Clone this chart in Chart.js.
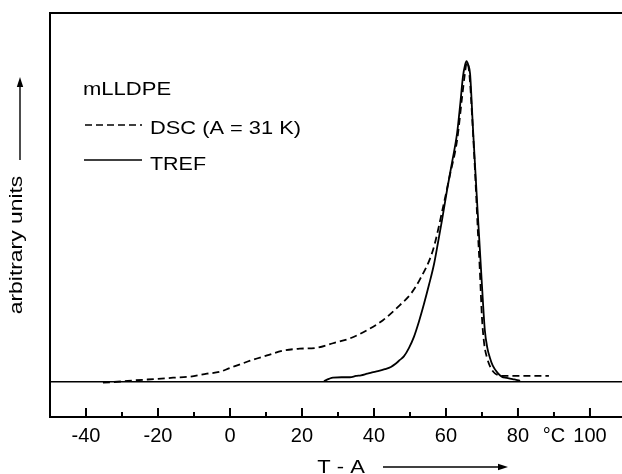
<!DOCTYPE html>
<html><head><meta charset="utf-8">
<script src="https://cdn.jsdelivr.net/npm/chart.js@4"></script>
<style>html,body{margin:0;padding:0;background:#fff;overflow:hidden}</style>
</head><body>
<canvas id="c" width="622" height="474"></canvas>
<script>
// ---- data ----
const dscTemp   = [-35.3, -30, -26.9, -20, -15.8, -11.1, -6.4, -2.8, 0, 2.8, 5.6, 10.3, 14.7, 19.4, 24.2, 28.6, 33.3, 38.1, 42.5, 47.2, 50.3, 52.8, 56.4, 59.2, 61, 63.1, 64.5, 65.3, 65.8, 66.5, 67.3, 68.1, 68.9, 69.4, 70, 70.6, 71.4, 72.5, 73.6, 75.8, 80, 88.6];
const dscSignal = [-0.3, 0.1, 0.4, 0.9, 1.25, 1.6, 2.5, 3.1, 4.3, 5.4, 6.6, 8.2, 9.7, 10.3, 10.6, 12.0, 13.5, 16.1, 19.2, 23.9, 27.5, 32, 41.1, 54.5, 64, 75.4, 89, 96.5, 99.7, 96, 82, 65, 46, 35, 20, 12, 7.5, 4.2, 2.6, 1.8, 1.8, 1.8];
const trefTemp   = [26.1, 27.5, 28.6, 31, 33.3, 35, 36.4, 38.1, 39.5, 41.1, 43, 44.7, 46, 47.2, 48.3, 49.7, 51.1, 52.5, 53.9, 55.3, 56.7, 57.8, 58.9, 60.3, 61.7, 63.1, 64, 64.7, 65.3, 65.7, 66.2, 66.7, 67.5, 68.6, 70, 70.8, 71.5, 72.2, 73, 74.4, 75.5, 76.9, 78.5, 79.5, 80.6];
const trefSignal = [0.2, 0.9, 1.3, 1.4, 1.4, 1.8, 2.0, 2.5, 2.9, 3.3, 3.9, 4.6, 5.6, 6.8, 7.9, 10.5, 14, 18.8, 24.3, 30.3, 36.8, 43.5, 50.4, 59.8, 68.5, 77.6, 87, 95, 98.8, 100, 98.8, 96, 79, 57, 30, 16, 10.5, 7.5, 5, 2.7, 1.6, 1.2, 0.8, 0.6, 0.3];
const xLabelValues = [-40, -20, 0, 20, 40, 60, 80, 100];
const unitLabelValue = 90;
const unitLabel = '°C';
const legendTitle = 'mLLDPE';
const seriesNames = ['DSC (A = 31 K)', 'TREF'];
const xTitle = 'T - A';
const yTitle = 'arbitrary units';

const FONT = '"Liberation Sans", Arial, Helvetica, sans-serif';
const DASH = [7, 4];

function toPoints(xs, ys) { return xs.map((x, i) => ({x: x, y: ys[i]})); }

function stretchText(ctx, text, x, y, size, sx, align, rot) {
  ctx.save();
  ctx.translate(x, y);
  if (rot) ctx.rotate(rot);
  ctx.scale(sx, 1);
  ctx.font = size + 'px ' + FONT;
  ctx.textAlign = align;
  ctx.textBaseline = 'alphabetic';
  ctx.fillStyle = '#000';
  ctx.fillText(text, 0, 0);
  ctx.restore();
}

function arrow(ctx, x1, y1, x2, y2) {
  const ang = Math.atan2(y2 - y1, x2 - x1);
  const L = 10, W = 3.2;
  ctx.beginPath();
  ctx.moveTo(x1, y1);
  ctx.lineTo(x2 - L * Math.cos(ang), y2 - L * Math.sin(ang));
  ctx.stroke();
  ctx.beginPath();
  ctx.moveTo(x2, y2);
  ctx.lineTo(x2 - L * Math.cos(ang) - W * Math.sin(ang), y2 - L * Math.sin(ang) + W * Math.cos(ang));
  ctx.lineTo(x2 - L * Math.cos(ang) + W * Math.sin(ang), y2 - L * Math.sin(ang) - W * Math.cos(ang));
  ctx.closePath();
  ctx.fill();
}

const decorPlugin = {
  id: 'decor',
  afterDraw(chart) {
    const ctx = chart.ctx, a = chart.chartArea, xs = chart.scales.x;
    ctx.save();
    ctx.strokeStyle = '#000';
    ctx.fillStyle = '#000';
    ctx.lineWidth = 2;
    // top frame line
    ctx.beginPath();
    ctx.moveTo(a.left - 1, a.top);
    ctx.lineTo(a.right, a.top);
    ctx.stroke();
    // inward tick marks on the bottom axis
    xs.ticks.forEach(t => {
      if (t.value <= xs.min || t.value >= xs.max) return;
      const px = xs.getPixelForValue(t.value);
      const len = (t.value % 20 === 0) ? 9 : 5;
      ctx.beginPath();
      ctx.moveTo(px, a.bottom);
      ctx.lineTo(px, a.bottom - len);
      ctx.stroke();
    });
    // legend
    const lx = a.left + 33;
    stretchText(ctx, legendTitle, lx, 95, 18.5, 1.19, 'left');
    ctx.lineWidth = 1.6;
    ctx.setLineDash(DASH);
    ctx.beginPath(); ctx.moveTo(lx + 2, 125); ctx.lineTo(lx + 59, 125); ctx.stroke();
    ctx.setLineDash([]);
    stretchText(ctx, seriesNames[0], lx + 67, 134, 18.5, 1.18, 'left');
    ctx.beginPath(); ctx.moveTo(lx + 1, 160); ctx.lineTo(lx + 59, 160); ctx.stroke();
    stretchText(ctx, seriesNames[1], lx + 67, 170, 18.5, 1.16, 'left');
    // x title with arrow
    stretchText(ctx, xTitle, 341, 473, 18, 1.22, 'center');
    ctx.lineWidth = 1.4;
    arrow(ctx, 383, 467, 508, 467);
    // y title with arrow
    stretchText(ctx, yTitle, 22, 245, 18, 1.27, 'center', -Math.PI / 2);
    arrow(ctx, 20, 160, 20, 77);
    ctx.restore();
  }
};

new Chart(document.getElementById('c'), {
  type: 'line',
  data: {
    datasets: [
      { label: seriesNames[0], data: toPoints(dscTemp, dscSignal), borderColor: '#000', borderWidth: 1.8, borderDash: DASH, pointRadius: 0, cubicInterpolationMode: 'monotone', fill: false },
      { label: seriesNames[1], data: toPoints(trefTemp, trefSignal), borderColor: '#000', borderWidth: 1.8, pointRadius: 0, cubicInterpolationMode: 'monotone', fill: false }
    ]
  },
  options: {
    responsive: false,
    devicePixelRatio: 1,
    animation: false,
    layout: { padding: { left: 50, top: 13, right: 0, bottom: 0 } },
    plugins: { legend: { display: false }, tooltip: { enabled: false } },
    scales: {
      x: {
        type: 'linear', min: -50, max: 108.9,
        afterFit(s) { s.height = 57; },
        border: { display: true, color: '#000', width: 2 },
        grid: { display: false, drawTicks: false },
        ticks: {
          stepSize: 10, includeBounds: false, autoSkip: false, maxRotation: 0, padding: 7,
          color: '#000', font: { family: FONT, size: 20 },
          callback: v => xLabelValues.includes(v) ? String(v) : (v === unitLabelValue ? unitLabel : '')
        }
      },
      y: {
        type: 'linear', min: -11, max: 115,
        afterFit(s) { s.width = 0; },
        border: { display: true, color: '#000', width: 2 },
        grid: { drawTicks: false, color: c => (c.tick && c.tick.value === 0) ? '#000' : 'rgba(0,0,0,0)', lineWidth: 1.4 },
        ticks: { display: false, stepSize: 5, includeBounds: false }
      }
    }
  },
  plugins: [decorPlugin]
});
</script>
</body></html>
